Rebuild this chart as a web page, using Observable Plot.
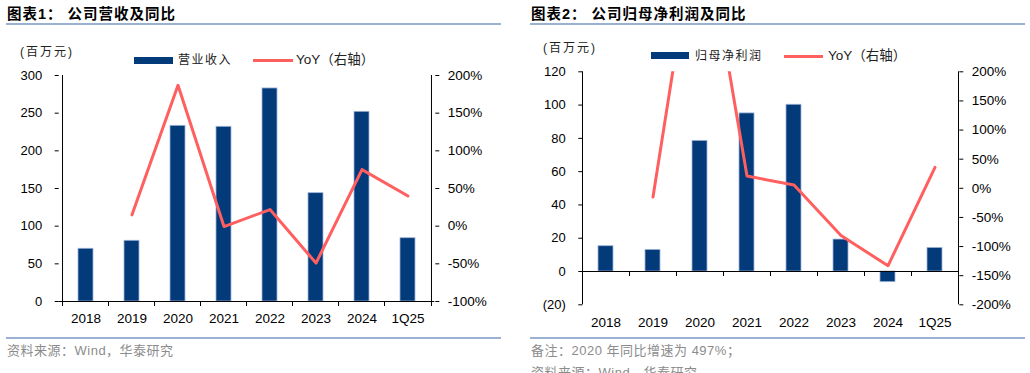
<!DOCTYPE html>
<html><head><meta charset="utf-8">
<script src="https://cdn.jsdelivr.net/npm/d3@7"></script>
<script src="https://cdn.jsdelivr.net/npm/@observablehq/plot@0.6"></script>
<style>
body{margin:0;width:1030px;height:373px;overflow:hidden;background:#fff;position:relative;font-family:"Liberation Sans",Arial,"Noto Sans CJK SC",sans-serif;}
.abs{position:absolute;white-space:nowrap;line-height:1;}
.title{font-family:"Liberation Sans","Noto Sans CJK SC",sans-serif;font-weight:bold;font-size:14.5px;letter-spacing:1px;color:#000;}
.hr{position:absolute;height:2px;background:#9AB1D1;}
.src{font-family:"Liberation Sans","Noto Sans CJK SC",sans-serif;font-size:13px;color:#8c8c8c;letter-spacing:0.5px;}
.unit{font-family:"Liberation Sans","Noto Sans CJK SC",sans-serif;font-size:12px;letter-spacing:2px;color:#222;}
.leg{font-family:"Liberation Sans","Noto Sans CJK SC",sans-serif;font-size:12px;letter-spacing:1.5px;color:#222;}
.legy{font-family:"Liberation Sans","Noto Sans CJK SC",sans-serif;font-size:13.5px;color:#222;}
.sw{position:absolute;}
</style>
</head><body>
<script>
const cats = ["2018","2019","2020","2021","2022","2023","2024","1Q25"];
const revenue = [70, 80.6, 233.2, 231.9, 282.8, 143.8, 251.8, 84];
const revenueYoY = [null, 15, 187, -0.5, 22, -49, 75, 40];
const profit = [15.2, 13.0, 78.5, 95, 100.2, 19.2, -6.4, 14.2];
const profitYoY = [null, -15, 497, 21, 5.5, -81, -133, 36];
const revTicks = [0, 50, 100, 150, 200, 250, 300];
const revYoYTicks = [-100, -50, 0, 50, 100, 150, 200];
const profitTicks = [-20, 0, 20, 40, 60, 80, 100, 120];
const profitYoYTicks = [-200, -150, -100, -50, 0, 50, 100, 150, 200];

const BAR = "#023A7A", BAR_EDGE = "#9FB5D6", RED = "#FF5F5F";

function panel(o) {
  const n = cats.length;
  const step = (o.W - o.mL - o.mR) / n;
  const last = cats[n - 1];
  const barData = cats.map((c, i) => ({cat: c, v: o.barVals[i]}));
  const lineData = cats.map((c, i) => ({cat: c, v: o.yoyVals[i]})).filter(d => d.v != null);
  const xOpts = {type: "band", domain: cats, paddingInner: 0.68, paddingOuter: 0.34};
  const common = {
    width: o.W, height: o.H,
    marginLeft: o.mL, marginRight: o.mR, marginTop: o.mT, marginBottom: o.mB,
    style: {fontFamily: "'Liberation Sans', Arial, sans-serif", fontSize: "13px", color: "#000", background: "transparent", overflow: "visible"}
  };
  const bars = Plot.plot({
    ...common,
    x: {...xOpts},
    y: {domain: o.yDomain},
    marks: [
      Plot.barY(barData, {x: "cat", y: "v", fill: BAR, stroke: BAR_EDGE, strokeWidth: 0.8}),
      Plot.ruleY([0], {stroke: "#000"}),
      Plot.ruleX([cats[0]], {x: d => d, stroke: "#000", dx: -step / 2}),
      Plot.ruleX([last], {x: d => d, stroke: "#000", dx: step / 2}),
      Plot.ruleX(cats, {x: d => d, y1: () => 0, y2: () => 0, insetBottom: -5, stroke: "#000", dx: -step / 2}),
      Plot.ruleX([last], {x: d => d, y1: () => 0, y2: () => 0, insetBottom: -5, stroke: "#000", dx: step / 2}),
      Plot.axisY({ticks: o.yTicks, tickFormat: o.yFmt, tickSize: 4, tickPadding: o.lPad, label: null, fontSize: 13}),
      Plot.axisX({tickSize: 0, tickPadding: o.xPad, label: null, fontSize: 13.5})
    ]
  });
  const line = Plot.plot({
    ...common,
    x: {...xOpts, axis: null},
    y: {domain: o.rDomain},
    marks: [
      Plot.lineY(lineData, {x: "cat", y: "v", stroke: RED, strokeWidth: 3, clip: true}),
      Plot.axisY({anchor: "right", ticks: o.rTicks, tickFormat: d => d + "%", tickSize: 4, tickPadding: o.rPad, label: null, fontSize: 13.5})
    ]
  });
  for (const svg of [bars, line]) {
    svg.style.position = "absolute";
    svg.style.left = o.left + "px";
    svg.style.top = "0px";
    document.body.appendChild(svg);
  }
}

function txt(cls, s, left, cy, size) {
  const d = document.createElement("div");
  d.className = "abs " + cls;
  d.textContent = s;
  d.style.left = left + "px";
  d.style.top = (cy - size / 2) + "px";
  document.body.appendChild(d);
}
function box(cls, left, top, w, h, color) {
  const d = document.createElement("div");
  d.className = cls;
  d.style.position = "absolute";
  d.style.left = left + "px"; d.style.top = top + "px";
  d.style.width = w + "px"; d.style.height = h + "px";
  if (color) d.style.background = color;
  document.body.appendChild(d);
}

panel({left: 0, W: 515, H: 338, mL: 58.7, mR: 80.7, mT: 75, mB: 37,
  barVals: revenue, yoyVals: revenueYoY, yDomain: [0, 300], yTicks: revTicks, yFmt: d => d,
  rDomain: [-100, 200], rTicks: revYoYTicks, lPad: 13, rPad: 9, xPad: 12});
panel({left: 515, W: 515, H: 338, mL: 67.3, mR: 71.7, mT: 71.3, mB: 33.7,
  barVals: profit, yoyVals: profitYoY, yDomain: [-20, 120], yTicks: profitTicks, yFmt: d => d < 0 ? "(" + (-d) + ")" : d,
  rDomain: [-200, 200], rTicks: profitYoYTicks, lPad: 13, rPad: 9, xPad: 12.5});

// titles and rules
txt("title", "图表1：  公司营收及同比", 7, 14, 14.5);
txt("title", "图表2：  公司归母净利润及同比", 531, 14, 14.5);
box("hr", 6, 23, 495, 2);
box("hr", 530, 23, 495, 2);
box("hr", 6, 337, 495, 2);
box("hr", 530, 337, 495, 2);

// units
txt("unit", "(百万元)", 20, 52, 12);
txt("unit", "(百万元)", 543, 48, 12);

// legends
box("sw", 134, 57, 39, 6.5, BAR);
txt("leg", "营业收入", 178, 60, 12);
box("sw", 253, 58.5, 40, 3, RED);
txt("legy", "YoY（右轴）", 296, 60, 13.5);

box("sw", 651, 52, 38, 7, BAR);
txt("leg", "归母净利润", 695, 55.5, 12);
box("sw", 784, 54.5, 39, 3, RED);
txt("legy", "YoY（右轴）", 828, 56, 13.5);

// sources
txt("src", "资料来源：Wind，华泰研究", 7, 350, 13);
txt("src", "备注：2020 年同比增速为 497%；", 531, 350, 13);
txt("src", "资料来源：Wind，华泰研究", 531, 372, 13);
</script>
</body></html>
